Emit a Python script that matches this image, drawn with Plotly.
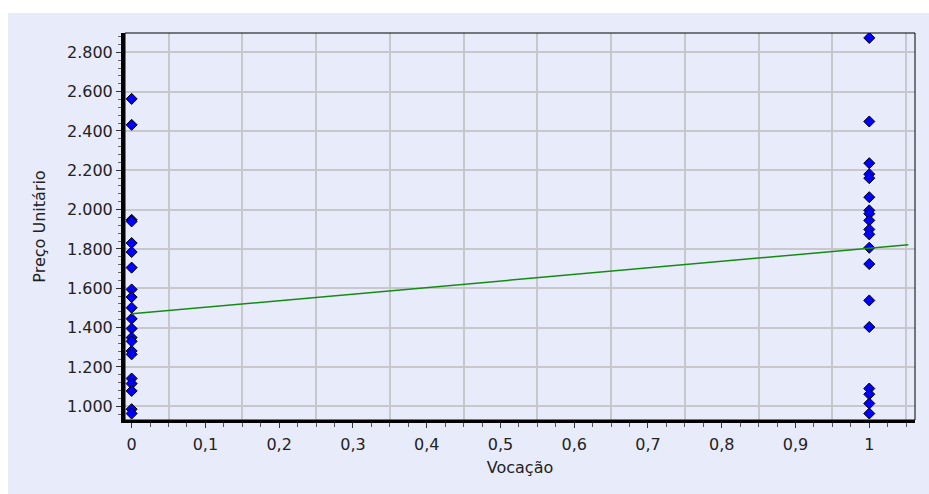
import plotly.graph_objects as go

# ---- data ----
vocacao_0 = [0, 0, 0, 0, 0, 0, 0, 0, 0, 0, 0, 0, 0, 0, 0, 0, 0, 0, 0, 0, 0]
preco_0 = [2563, 2431, 1948, 1940, 1830, 1784, 1705, 1594, 1555, 1501, 1445,
           1395, 1349, 1330, 1281, 1264, 1141, 1115, 1078, 985, 963]

vocacao_1 = [1, 1, 1, 1, 1, 1, 1, 1, 1, 1, 1, 1, 1, 1, 1, 1, 1, 1, 1]
preco_1 = [2873, 2448, 2236, 2180, 2160, 2063, 1996, 1979, 1945, 1899, 1874,
           1806, 1723, 1538, 1403, 1090, 1061, 1014, 963]

reta_x = [0, 1.053]
reta_y = [1470, 1821]

x_tick_vals = [0, 0.1, 0.2, 0.3, 0.4, 0.5, 0.6, 0.7, 0.8, 0.9, 1]
y_tick_vals = [1000, 1200, 1400, 1600, 1800, 2000, 2200, 2400, 2600, 2800]

x_title = "Vocação"
y_title = "Preço Unitário"

# ---- styling ----
BG = "rgb(232,235,250)"
GRID = "rgb(200,200,204)"
FONT = "DejaVu Sans"
TXT = "#222222"
X_RANGE = [-0.009, 1.062]
Y_RANGE = [930, 2898]

fig = go.Figure()

fig.add_trace(go.Scatter(
    x=reta_x, y=reta_y, mode="lines", xaxis="x2",
    line=dict(color="rgb(20,140,20)", width=1.5),
    hoverinfo="skip", showlegend=False,
))

fig.add_trace(go.Scatter(
    x=vocacao_0 + vocacao_1, y=preco_0 + preco_1, mode="markers",
    marker=dict(symbol="diamond", size=8.5, color="#0000FF",
                line=dict(color="#000000", width=1)),
    showlegend=False,
))

fig.update_layout(
    width=921, height=486,
    margin=dict(l=117, r=14, t=25, b=74),
    paper_bgcolor=BG,
    plot_bgcolor=BG,
    separators=",.",
    font=dict(family=FONT, size=16, color=TXT),
    xaxis=dict(
        range=X_RANGE, tickvals=x_tick_vals, showgrid=False, zeroline=False,
        showline=True, linecolor="black", linewidth=3,
        ticks="outside", ticklen=5, tickcolor="#333333", tickwidth=1,
        ticklabelstandoff=3,
        minor=dict(dtick=0.025, tick0=0, ticks="outside", ticklen=4,
                   tickcolor="#555555", showgrid=False),
        title=dict(text=x_title, standoff=9, font=dict(size=16)),
        tickfont=dict(size=16),
    ),
    xaxis2=dict(
        range=X_RANGE, overlaying="x", anchor="y", side="bottom",
        tick0=0.05, dtick=0.1, showgrid=True, gridcolor=GRID, gridwidth=1.5,
        showticklabels=False, ticks="", showline=False, zeroline=False,
    ),
    yaxis=dict(
        range=Y_RANGE, tickvals=y_tick_vals, tickformat=",.0f",
        showgrid=True, gridcolor=GRID, gridwidth=1.5, zeroline=False,
        showline=True, linecolor="black", linewidth=4,
        ticks="outside", ticklen=5, tickcolor="#333333", tickwidth=1,
        minor=dict(dtick=40, tick0=1000, ticks="outside", ticklen=3,
                   tickcolor="#666666", showgrid=False),
        title=dict(text=y_title, standoff=18, font=dict(size=16)),
        tickfont=dict(size=16),
    ),
    shapes=[
        dict(type="rect", xref="paper", yref="paper",
             x0=-0.2, x1=1.2, y0=1.052, y1=1.1,
             fillcolor="white", line=dict(width=0), layer="below"),
        dict(type="rect", xref="paper", yref="paper",
             x0=0, x1=1, y0=0, y1=1,
             line=dict(color="black", width=1), layer="above"),
    ],
)

fig.write_html(
    "out.html",
    post_script="document.body.style.margin='8px 0 0 8px';"
                "document.body.style.overflow='hidden';",
)
